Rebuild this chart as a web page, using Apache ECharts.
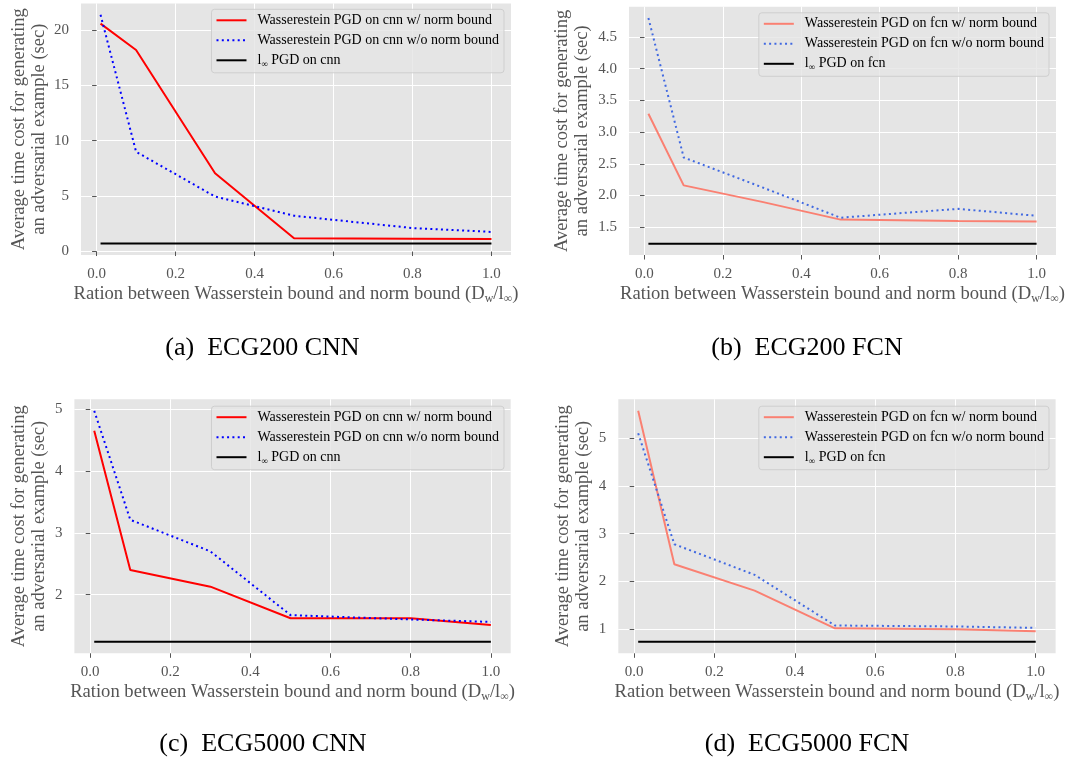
<!DOCTYPE html>
<html>
<head>
<meta charset="utf-8">
<script src="https://cdn.jsdelivr.net/npm/echarts@6/dist/echarts.min.js"></script>
<style>
  html, body { margin: 0; padding: 0; background: #ffffff; }
  #chart { width: 1070px; height: 761px; }
</style>
</head>
<body>
<div id="chart"></div>
<script>
// Ratio between Wasserstein bound and norm bound (D_w / l_inf)
const ratios = [0.01, 0.1, 0.3, 0.5, 0.8, 1.0];
const xTickValues = [0, 0.2, 0.4, 0.6, 0.8, 1.0];

// Average time (sec) to generate one adversarial example
// ECG200, CNN
const ecg200CnnWithBound = [20.56, 18.18, 7.06, 1.19, 1.15, 1.14];
const ecg200CnnNoBound   = [21.35, 9.00, 4.96, 3.23, 2.12, 1.77];
const ecg200CnnLinf      = [0.72, 0.72, 0.72, 0.72, 0.72, 0.72];
// ECG200, FCN
const ecg200FcnWithBound = [3.29, 2.16, 1.90, 1.62, 1.60, 1.59];
const ecg200FcnNoBound   = [4.80, 2.60, 2.13, 1.65, 1.79, 1.68];
const ecg200FcnLinf      = [1.24, 1.24, 1.24, 1.24, 1.24, 1.24];
// ECG5000, CNN
const ecg5000CnnWithBound = [4.65, 2.40, 2.13, 1.62, 1.62, 1.51];
const ecg5000CnnNoBound   = [4.97, 3.21, 2.70, 1.67, 1.60, 1.56];
const ecg5000CnnLinf      = [1.24, 1.24, 1.24, 1.24, 1.24, 1.24];
// ECG5000, FCN
const ecg5000FcnWithBound = [5.57, 2.36, 1.81, 1.02, 1.00, 0.96];
const ecg5000FcnNoBound   = [5.10, 2.78, 2.14, 1.08, 1.06, 1.03];
const ecg5000FcnLinf      = [0.74, 0.74, 0.74, 0.74, 0.74, 0.74];

// y tick labels per panel
const yTicksA = [0, 5, 10, 15, 20];
const yTicksB = [1.5, 2.0, 2.5, 3.0, 3.5, 4.0, 4.5];
const yTicksC = [2, 3, 4, 5];
const yTicksD = [1, 2, 3, 4, 5];

const captions = ['(a)  ECG200 CNN', '(b)  ECG200 FCN', '(c)  ECG5000 CNN', '(d)  ECG5000 FCN'];

const SERIF = '"Liberation Serif", "Times New Roman", serif';
const GREY = '#555555';

const panels = [
  { grid: { left: 81, top: 3.4, width: 430, height: 251.6 }, legend: { right: 566, top: 9.3 },
    model: 'cnn', solid: '#ff0000', dotted: '#0000ff', ticks: yTicksA, dec: 0, nameGap: 32,
    data: [ecg200CnnWithBound, ecg200CnnNoBound, ecg200CnnLinf], caption: [262.5, 348] },
  { grid: { left: 629, top: 6.7, width: 427, height: 248.3 }, legend: { right: 21, top: 12.8 },
    model: 'fcn', solid: '#fa8072', dotted: '#4169e1', ticks: yTicksB, dec: 1, nameGap: 36.5,
    data: [ecg200FcnWithBound, ecg200FcnNoBound, ecg200FcnLinf], caption: [807, 348] },
  { grid: { left: 74.4, top: 399.3, width: 436.3, height: 254 }, legend: { right: 566, top: 406.2 },
    model: 'cnn', solid: '#ff0000', dotted: '#0000ff', ticks: yTicksC, dec: 0, nameGap: 25,
    data: [ecg5000CnnWithBound, ecg5000CnnNoBound, ecg5000CnnLinf], caption: [263, 744] },
  { grid: { left: 618.3, top: 399.3, width: 437.3, height: 254 }, legend: { right: 21, top: 406.2 },
    model: 'fcn', solid: '#fa8072', dotted: '#4169e1', ticks: yTicksD, dec: 0, nameGap: 25,
    data: [ecg5000FcnWithBound, ecg5000FcnNoBound, ecg5000FcnLinf], caption: [807, 744] }
];

// autoscale with a 5% margin on both ends
function padded(values) {
  const lo = Math.min(...values), hi = Math.max(...values);
  const m = (hi - lo) * 0.05;
  return [lo - m, hi + m];
}
const xRange = padded(ratios);

const option = {
  animation: false,
  backgroundColor: '#ffffff',
  grid: [], xAxis: [], yAxis: [], series: [], legend: [], graphic: []
};

panels.forEach((p, i) => {
  option.grid.push(Object.assign({ backgroundColor: '#e5e5e5', show: true, borderWidth: 0 }, p.grid));
  const yRange = padded([].concat(...p.data));
  const names = [
    'Wasserestein PGD on ' + p.model + ' w/ norm bound',
    'Wasserestein PGD on ' + p.model + ' w/o norm bound',
    'l\u221e PGD on ' + p.model
  ];

  option.xAxis.push({
    type: 'value', gridIndex: i, min: xRange[0], max: xRange[1],
    axisLine: { show: false },
    axisTick: { show: true, length: 4.5, customValues: xTickValues, lineStyle: { color: GREY, width: 1 } },
    axisLabel: { customValues: xTickValues, margin: 11.5, color: GREY, fontFamily: SERIF, fontSize: 15,
                 formatter: v => v.toFixed(1) },
    splitLine: { show: true, lineStyle: { color: '#ffffff', width: 1 } },
    name: 'Ration between Wasserstein bound and norm bound (D{sub|w}/l{sub|\u221e})',
    nameLocation: 'middle', nameGap: 28.5,
    nameTextStyle: {
      color: GREY, fontFamily: SERIF, fontSize: 18.6,
      rich: { sub: { color: GREY, fontFamily: SERIF, fontSize: 12, padding: [9, 0, 0, 0] } }
    }
  });

  option.yAxis.push({
    type: 'value', gridIndex: i, min: yRange[0], max: yRange[1],
    axisLine: { show: false },
    axisTick: { show: true, length: 4.5, customValues: p.ticks, lineStyle: { color: GREY, width: 1 } },
    axisLabel: { customValues: p.ticks, margin: 12, color: GREY, fontFamily: SERIF, fontSize: 15,
                 formatter: v => v.toFixed(p.dec) },
    splitLine: { show: true, lineStyle: { color: '#ffffff', width: 1 } },
    name: 'Average time cost for generating\nan adversarial example (sec)',
    nameLocation: 'middle', nameRotate: 90, nameGap: p.nameGap,
    nameTextStyle: { color: GREY, fontFamily: SERIF, fontSize: 18.5, lineHeight: 20 }
  });

  const styles = [
    { color: p.solid, width: 2, type: 'solid' },
    { color: p.dotted, width: 2, type: [2, 3.3] },
    { color: '#000000', width: 2, type: 'solid' }
  ];
  p.data.forEach((vals, k) => {
    option.series.push({
      type: 'line', name: names[k], xAxisIndex: i, yAxisIndex: i,
      data: ratios.map((x, j) => [x, vals[j]]),
      symbol: 'none', z: 2 + k,
      lineStyle: Object.assign({ cap: 'butt' }, styles[k]),
      itemStyle: { color: styles[k].color }
    });
  });

  option.legend.push({
    data: names, orient: 'vertical', align: 'left',
    right: p.legend.right, top: p.legend.top,
    itemWidth: 30, itemHeight: 14, itemGap: 6,
    padding: [4, 5, 4, 4],
    itemStyle: { opacity: 0 },
    backgroundColor: 'rgba(229,229,229,0.8)', borderColor: 'rgba(204,204,204,0.9)', borderWidth: 1, borderRadius: 3,
    selectedMode: false,
    formatter: n => n.replace('l\u221e', 'l{sub|\u221e}'),
    textStyle: {
      color: '#000000', fontFamily: SERIF, fontSize: 14, padding: [0, 0, 0, 6],
      rich: { sub: { color: '#000000', fontFamily: SERIF, fontSize: 9, padding: [8, 0, 0, 0] } }
    }
  });

  option.graphic.push({
    type: 'text', x: p.caption[0], y: p.caption[1],
    style: { text: captions[i], font: '26px ' + SERIF, fill: '#000000', align: 'center', verticalAlign: 'middle' }
  });
});

const chart = echarts.init(document.getElementById('chart'), null, { renderer: 'canvas' });
chart.setOption(option);
</script>
</body>
</html>
